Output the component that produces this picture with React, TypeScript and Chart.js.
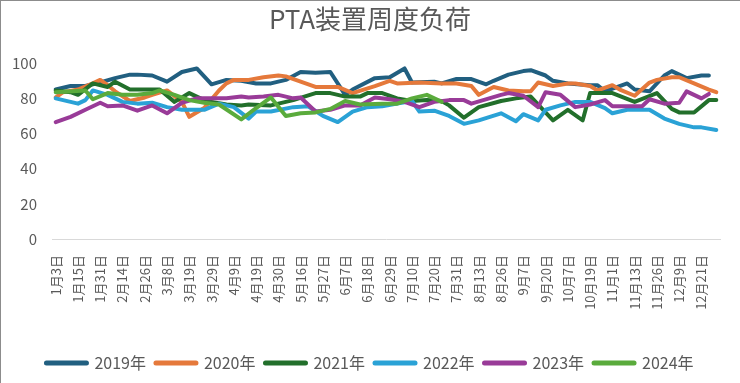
import React, { useEffect, useRef } from 'react';
import { Chart, registerables } from 'chart.js';

Chart.register(...registerables);

const FONT = "'Noto Sans CJK SC', 'Noto Sans', sans-serif";
const TEXT_COLOR = '#595959';

const title = 'PTA装置周度负荷';

const dateLabels = [
  '1月3日', '1月15日', '1月31日', '2月14日', '2月26日', '3月8日', '3月19日', '3月29日',
  '4月9日', '4月19日', '4月30日', '5月16日', '5月27日', '6月7日', '6月18日', '6月29日',
  '7月10日', '7月20日', '7月31日', '8月13日', '8月26日', '9月7日', '9月20日', '10月7日',
  '10月19日', '11月1日', '11月13日', '11月26日', '12月9日', '12月21日',
];

const yearNames = ['2019年', '2020年', '2021年', '2022年', '2023年', '2024年'];
const yearColors = ['#215f80', '#e5793b', '#226f2b', '#2aa2d6', '#993b98', '#5aab3c'];

const yTicks = [0, 20, 40, 60, 80, 100];

const load2019 = [
  85, null, 87, null, 87, null, 89, null, 91.5, null,
  93.5, 93.5, null, 93, null, 89.5, null, 95, null, 97,
  null, 88, null, 90.5, null, 90, null, 88.5, null, 88.5,
  null, 90.5, null, 95, null, 94.5, null, 95, null, 82,
  85, null, null, 91.5, null, 92, null, 97, 89, null,
  null, 89.5, 88.5, null, 91, null, 91, null, 88, 90,
  null, 93.5, null, 95.5, 96, null, 93, 90, null, 88.5,
  null, null, 87.5, 87.5, 84, null, null, 88.5, 85, null,
  84, null, 93, 95.5, null, 91.5, null, 93, 93, null,
];

const load2020 = [
  80.5, 83.5, null, 85, null, 88.5, 90.5, 87.5, 84, null,
  78.5, null, 80.5, 82, null, 84.5, null, 78, 69.5, null,
  74.5, null, 84.5, 88.5, 90.5, null, 90.5, null, 92, null,
  93, 92.5, null, 89.5, null, 86.5, null, null, 86.5, null,
  83, null, null, 87, null, 90, 88.5, null, null, 89,
  null, null, 88.5, null, 88.5, null, 87, 82, null, 86.5,
  null, 84.5, null, 84, 84, 89, null, 87, null, 88.5,
  88.5, null, 87, 84.5, null, 87.5, 85, null, 81.5, null,
  89, 90.5, null, 92, 92, null, 88.5, null, 85, 83.5,
];

const load2021 = [
  84.5, null, 83.5, 82, null, 88.5, null, 86.5, 89.5, null,
  85, null, null, null, 85, null, 78, null, 83, null,
  79, 78, null, 76.5, null, 76, 76.5, null, null, 76,
  null, null, 79, null, null, 83, null, 83, null, 81,
  null, 81, 83, null, 83, null, 80, null, 78.5, null,
  79, null, 78.5, 76, null, 69, null, 75, null, null,
  78.5, null, 80, null, 81, null, null, 67.5, null, 73.5,
  null, 67.5, 83, null, null, 83, null, null, 78, null,
  null, 83, null, 74, 72, null, 72, null, 79, 79,
];

const load2022 = [
  80, null, null, 77, 79, 84.5, null, 82, null, 78,
  null, 77, null, 77.5, null, 75, null, 73.5, null, null,
  73.5, null, 77, null, 75, null, 68.5, 72.5, null, 72.5,
  null, null, 75, null, 75.5, null, 70, null, 66.5, null,
  72.5, null, 75, null, 75.5, null, 77, null, 78.5, 72.5,
  null, 73, null, 70, null, 65.5, null, 67.5, null, null,
  71.5, null, 67, 71, null, 67.5, 73.5, null, 76, null,
  78, null, 78, null, 74.5, 71.5, null, 73.5, null, null,
  73.5, null, 68.5, null, 65.5, null, 63.5, 63.5, null, 62,
];

const load2023 = [
  66.5, null, 69.5, null, 73.5, null, 77.5, 75.5, null, 76,
  null, 73, null, 76, null, 71.5, null, 77.5, null, 80,
  null, null, null, 80, null, 81, 80.5, null, 81, null,
  82, null, 80, 80.5, null, 72.5, null, 73.5, null, 76,
  null, 76, null, 80.5, null, 79.5, null, 78, null, 75,
  null, 78, null, 79, null, 79, 77, null, null, null,
  82, 83, null, 81.5, null, 75, 83.5, null, 82, null,
  75, null, 76.5, null, 79, 75.5, null, null, null, 75.5,
  79.5, null, 77, null, 77.5, 84, null, 80, 82.5, null,
];

const load2024 = [
  83.5, null, null, null, 84.5, 79.5, null, 83, null, 82,
  null, 82, null, 83, 84.5, null, 82, null, 79, null,
  77.5, null, 76.5, null, null, 68, null, 74.5, null, 80.5,
  null, 70, null, 71.5, null, 72, null, 74, null, 78.5,
  null, 76.5, null, null, 77, null, 77, null, 80, null,
  82, null, 78,
];

const seriesValues = [load2019, load2020, load2021, load2022, load2023, load2024];

// 90 categories; a date label is shown on every third one
const CATEGORY_COUNT = 90;
const categories = Array.from({ length: CATEGORY_COUNT }, (_, i) =>
  i % 3 === 0 ? dateLabels[i / 3] : ''
);

export default function App() {
  const canvasRef = useRef<HTMLCanvasElement | null>(null);

  useEffect(() => {
    document.body.style.margin = '0';
    const canvas = canvasRef.current;
    if (!canvas) return;

    const datasets = seriesValues.map((vals, i) => ({
      label: yearNames[i],
      data: vals,
      borderColor: yearColors[i],
      backgroundColor: yearColors[i],
      borderWidth: 4,
      pointRadius: 0,
      pointHoverRadius: 0,
      tension: 0,
      spanGaps: true,
      fill: false,
      borderCapStyle: 'round' as const,
      borderJoinStyle: 'round' as const,
      order: seriesValues.length - 1 - i,
      yAxisID: 'y',
    }));

    const chart = new Chart(canvas, {
      type: 'line',
      data: { labels: categories, datasets },
      options: {
        animation: false,
        responsive: false,
        events: [],
        layout: { padding: { left: 8, right: 8, top: 0, bottom: 2 } },
        plugins: {
          title: {
            display: true,
            text: title,
            color: TEXT_COLOR,
            font: { family: FONT, size: 26, weight: 'normal' },
            padding: { top: 4, bottom: 28 },
          },
          legend: {
            display: true,
            position: 'bottom',
            labels: {
              usePointStyle: true,
              pointStyle: 'line',
              pointStyleWidth: 40,
              color: TEXT_COLOR,
              font: { family: FONT, size: 16 },
              padding: 10,
              sort: (a: any, b: any) => a.datasetIndex - b.datasetIndex,
              generateLabels: (c: any) =>
                Chart.defaults.plugins.legend.labels
                  .generateLabels(c)
                  .map((l: any) => ({ ...l, lineWidth: 5, lineCap: 'round' })),
            },
          },
          tooltip: { enabled: false },
        },
        scales: {
          x: {
            type: 'category',
            offset: true,
            grid: { display: false },
            border: { display: true, color: '#d9d9d9', width: 1 },
            ticks: {
              autoSkip: false,
              maxRotation: 90,
              minRotation: 90,
              color: TEXT_COLOR,
              font: { family: FONT, size: 13 },
              padding: 8,
            },
            afterFit: (s: any) => {
              s.height = 106;
            },
          },
          y: {
            min: 0,
            max: 100,
            grid: { display: false },
            border: { display: false },
            afterBuildTicks: (s: any) => {
              s.ticks = yTicks.map((v) => ({ value: v }));
            },
            ticks: {
              color: TEXT_COLOR,
              font: { family: FONT, size: 15 },
              padding: 7,
            },
            afterFit: (s: any) => {
              s.width = 44;
            },
          },
          yRight: {
            position: 'right',
            display: true,
            min: 0,
            max: 100,
            grid: { display: false },
            border: { display: false },
            ticks: { display: false },
            afterFit: (s: any) => {
              s.width = 10;
            },
          },
        },
      },
    });

    return () => chart.destroy();
  }, []);

  return (
    <div style={{ position: 'relative', width: 740, height: 383, background: '#fff' }}>
      <canvas ref={canvasRef} width={740} height={383} style={{ display: 'block' }} />
      <div
        style={{
          position: 'absolute',
          left: 0,
          top: 0,
          width: 740,
          height: 383,
          boxSizing: 'border-box',
          borderLeft: '1px solid #8c8c8c',
          borderTop: '1px solid #8c8c8c',
          pointerEvents: 'none',
        }}
      />
    </div>
  );
}
